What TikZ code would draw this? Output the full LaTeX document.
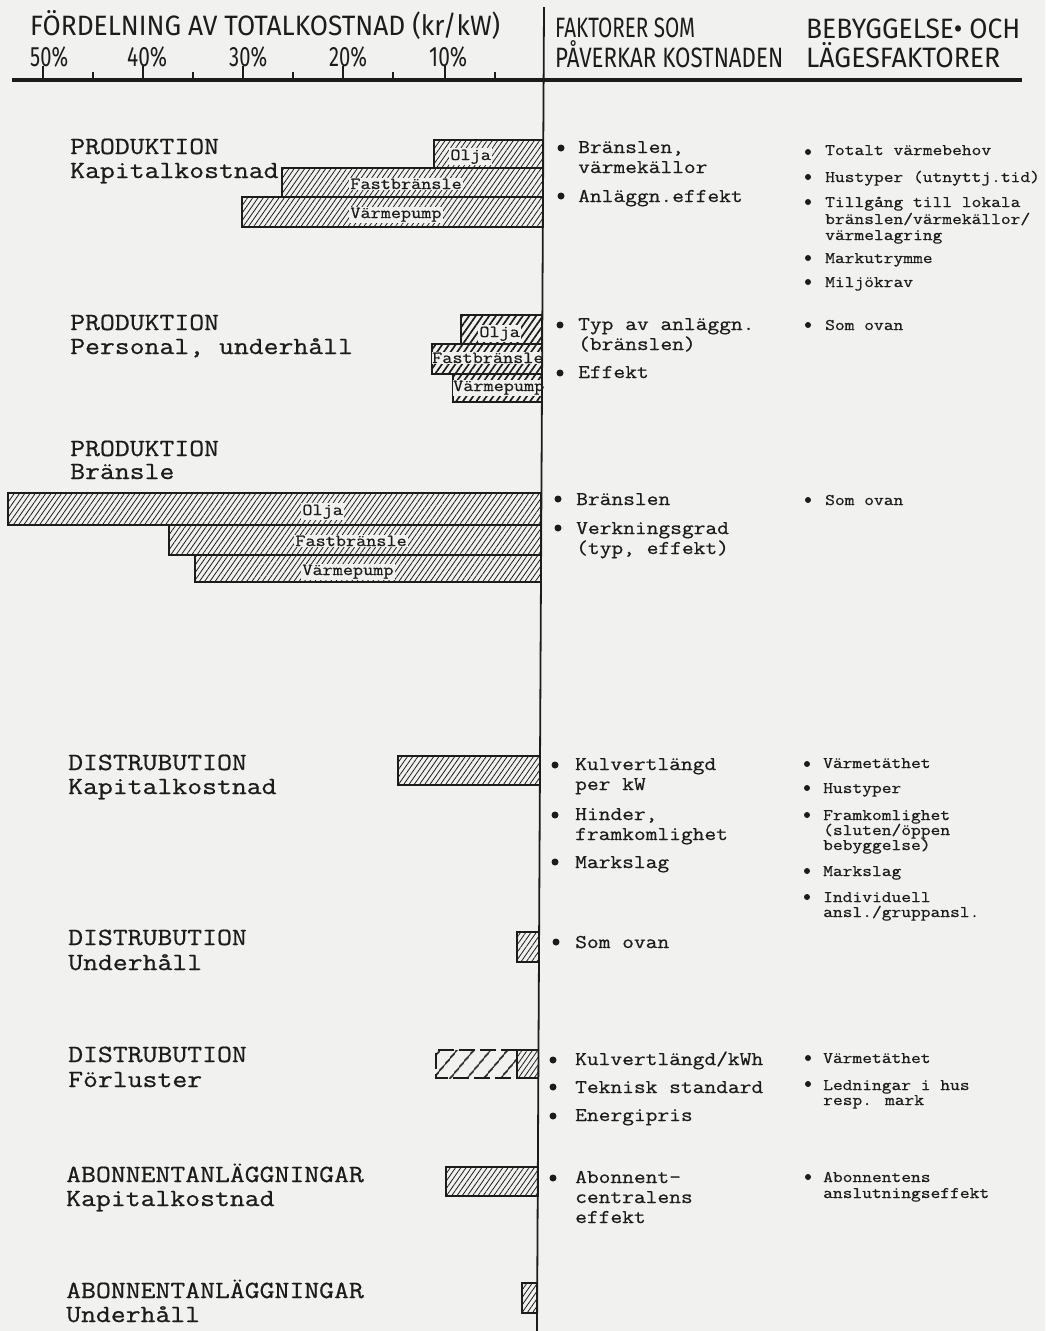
\documentclass[tikz,border=0pt]{standalone}
\usepackage{fontspec}
\usepackage{graphicx}
\usetikzlibrary{patterns.meta}
\newfontfamily\monof{Latin Modern Mono}[FakeStretch=1.17,FakeBold=0.7]
\newfontfamily\handf{Fira Sans}
\definecolor{paper}{RGB}{241,241,239}
\definecolor{ink}{RGB}{28,28,28}
\newcommand\lblfont{\monof\fontsize{24.7}{25}\selectfont}
\newcommand\ctwofont{\monof\fontsize{19.5}{20}\selectfont}
\newcommand\cthreefont{\monof\fontsize{16.2}{17}\selectfont}
\newcommand\barfont{\monof\fontsize{16.8}{17}\selectfont}
\newcommand\hw[3]{\resizebox{#1pt}{\height}{\handf\fontsize{#2}{#2}\selectfont #3}}
\tikzset{
  hd/.style={anchor=base west, inner sep=0pt, text=ink},
  lbl/.style={font=\lblfont, anchor=base west, inner sep=0pt, text=ink},
  ctwo/.style={font=\ctwofont, anchor=base west, inner sep=0pt, text=ink},
  cthree/.style={font=\cthreefont, anchor=base west, inner sep=0pt, text=ink},
  blab/.style={font=\barfont, fill=paper, inner sep=1.2pt, anchor=base west, text=ink},
  bar/.style={draw=ink, line width=1.6pt, pattern={Lines[angle=55,distance=4.3pt,line width=0.8pt]}, pattern color=ink},
  boldbar/.style={draw=ink, line width=1.6pt, pattern={Lines[angle=55,distance=5.5pt,line width=1.7pt]}, pattern color=ink},
  sparsebar/.style={draw=ink, line width=1.6pt, dash pattern=on 16pt off 5pt, pattern={Lines[angle=50,distance=13pt,line width=1.8pt]}, pattern color=ink},
  dotb/.style={circle, fill=ink, inner sep=0pt, minimum size=7pt},
  dots/.style={circle, fill=ink, inner sep=0pt, minimum size=6pt},
  axis/.style={draw=ink, line width=3.5pt},
  vline/.style={draw=ink, line width=1.8pt},
  tk/.style={draw=ink, line width=1.8pt}
}
\begin{document}
\begin{tikzpicture}[x=1pt,y=-1pt]
\useasboundingbox (0,0) rectangle (1045,1331);
\fill[paper] (0,0) rectangle (1045,1331);

% header
\node[hd] (h1) at (30,35) {\hw{470}{28}{FÖRDELNING AV TOTALKOSTNAD (kr/kW)}};
\node[hd] (p50) at (30,66) {\hw{38}{28}{50\%}};
\node[hd] (p40) at (127,66) {\hw{40}{28}{40\%}};
\node[hd] (p30) at (229,66) {\hw{38}{28}{30\%}};
\node[hd] (p20) at (329,66) {\hw{38}{28}{20\%}};
\node[hd] (p10) at (429,66) {\hw{38}{28}{10\%}};
\node[hd] (h2) at (555,37) {\hw{140}{28}{FAKTORER SOM}};
\node[hd] (h3) at (555,67) {\hw{228}{28}{PÅVERKAR KOSTNADEN}};
\node[hd] (h4) at (806,38) {\hw{214}{28}{BEBYGGELSE• OCH}};
\node[hd] (h5) at (806,67) {\hw{194}{28}{LÄGESFAKTORER}};

% axes
\draw[axis] (12,80) -- (1022,80);
\foreach \x in {43,143,243,343,445} \draw[tk] (\x,66) -- (\x,80);
\foreach \x in {93,193,293,393,495} \draw[tk] (\x,72) -- (\x,80);

% bars: produktion kapitalkostnad
\draw[bar] (434,140) rectangle (543.1,168);
\draw[bar] (282,168) rectangle (543.1,197);
\draw[bar] (242,197) rectangle (543.1,227);
\node[blab] (b1o) at (449,160) {Olja};
\node[blab] (b1f) at (349,189) {Fastbränsle};
\node[blab] (b1v) at (349,218) {Värmepump};

% produktion personal
\draw[boldbar] (461,315) rectangle (542.1,344);
\draw[boldbar] (432,344) rectangle (542.1,374);
\draw[boldbar] (453,374) rectangle (542.1,402);
\node[blab] (b2o) at (478,337) {Olja};
\node[blab, inner xsep=0pt] (b2f) at (432,363) {Fastbränsle};
\node[blab, inner xsep=0pt] (b2v) at (453,391) {Värmepump};

% produktion bränsle
\draw[bar] (8,493) rectangle (541.2,525);
\draw[bar] (169,525) rectangle (541.2,555);
\draw[bar] (195,555) rectangle (541.2,582);
\node[blab] (b3o) at (301,515) {Olja};
\node[blab] (b3f) at (294,546) {Fastbränsle};
\node[blab] (b3v) at (301,575) {Värmepump};

% distribution
\draw[bar] (398,756) rectangle (540,785);
\draw[bar] (517,932) rectangle (539,962);
\draw[sparsebar] (517,1050) -- (436,1050) -- (436,1078) -- (517,1078);
\draw[bar] (517,1050) rectangle (538.4,1078);
% abonnent
\draw[bar] (446,1167) rectangle (537.8,1196);
\draw[bar] (522,1283) rectangle (537.2,1313);

% vertical line
\draw[vline] (544,7) -- (537,1331);

% left labels
\node[lbl] (l1a) at (70,154) {PRODUKTION};
\node[lbl] (l1b) at (70,178) {Kapitalkostnad};
\node[lbl] (l2a) at (70,330) {PRODUKTION};
\node[lbl] (l2b) at (70,354) {Personal, underhåll};
\node[lbl] (l3a) at (70,456) {PRODUKTION};
\node[lbl] (l3b) at (70,479) {Bränsle};
\node[lbl] (l4a) at (68,770) {DISTRUBUTION};
\node[lbl] (l4b) at (68,794) {Kapitalkostnad};
\node[lbl] (l5a) at (68,945) {DISTRUBUTION};
\node[lbl] (l5b) at (68,970) {Underhåll};
\node[lbl] (l6a) at (68,1062) {DISTRUBUTION};
\node[lbl] (l6b) at (68,1087) {Förluster};
\node[lbl] (l7a) at (66,1182) {ABONNENTANLÄGGNINGAR};
\node[lbl] (l7b) at (66,1206) {Kapitalkostnad};
\node[lbl] (l8a) at (66,1298) {ABONNENTANLÄGGNINGAR};
\node[lbl] (l8b) at (66,1322) {Underhåll};

% column 2
\node[dotb] (d1) at (561,148) {};
\node[ctwo] (c1a) at (578,153) {Bränslen,};
\node[ctwo] (c1b) at (578,173) {värmekällor};
\node[dotb] (d2) at (561,196) {};
\node[ctwo] (c2) at (578,202) {Anläggn.effekt};
\node[dotb] (d3) at (560,325) {};
\node[ctwo] (c3a) at (578,330) {Typ av anläggn.};
\node[ctwo] (c3b) at (578,350) {(bränslen)};
\node[dotb] (d4) at (560,373) {};
\node[ctwo] (c4) at (578,378) {Effekt};
\node[dotb] (d5) at (558,499) {};
\node[ctwo] (c5) at (576,505) {Bränslen};
\node[dotb] (d6) at (558,528) {};
\node[ctwo] (c6a) at (576,534) {Verkningsgrad};
\node[ctwo] (c6b) at (576,554) {(typ, effekt)};
\node[dotb] (d7) at (555,765) {};
\node[ctwo] (c7a) at (575,770) {Kulvertlängd};
\node[ctwo] (c7b) at (575,790) {per kW};
\node[dotb] (d8) at (555,815) {};
\node[ctwo] (c8a) at (575,820) {Hinder,};
\node[ctwo] (c8b) at (575,840) {framkomlighet};
\node[dotb] (d9) at (555,862) {};
\node[ctwo] (c9) at (575,868) {Markslag};
\node[dotb] (d10) at (556,942) {};
\node[ctwo] (c10) at (575,948) {Som ovan};
\node[dotb] (d11) at (553,1060) {};
\node[ctwo] (c11) at (575,1065) {Kulvertlängd/kWh};
\node[dotb] (d12) at (553,1087) {};
\node[ctwo] (c12) at (575,1093) {Teknisk standard};
\node[dotb] (d13) at (553,1116) {};
\node[ctwo] (c13) at (575,1121) {Energipris};
\node[dotb] (d14) at (553,1178) {};
\node[ctwo] (c14a) at (575,1183) {Abonnent-};
\node[ctwo] (c14b) at (575,1203) {centralens};
\node[ctwo] (c14c) at (575,1223) {effekt};

% column 3
\node[dots] (e1) at (808,152) {};
\node[cthree] (f1) at (825,155) {Totalt värmebehov};
\node[dots] (e2) at (808,177) {};
\node[cthree] (f2) at (825,182) {Hustyper (utnyttj.tid)};
\node[dots] (e3) at (808,202) {};
\node[cthree] (f3a) at (825,207) {Tillgång till lokala};
\node[cthree] (f3b) at (825,224) {bränslen/värmekällor/};
\node[cthree] (f3c) at (825,240) {värmelagring};
\node[dots] (e4) at (808,258) {};
\node[cthree] (f4) at (825,263) {Markutrymme};
\node[dots] (e5) at (808,282) {};
\node[cthree] (f5) at (825,287) {Miljökrav};
\node[dots] (e6) at (808,325) {};
\node[cthree] (f6) at (825,330) {Som ovan};
\node[dots] (e7) at (808,500) {};
\node[cthree] (f7) at (825,505) {Som ovan};
\node[dots] (e8) at (807,764) {};
\node[cthree] (f8) at (823,768) {Värmetäthet};
\node[dots] (e9) at (807,788) {};
\node[cthree] (f9) at (823,793) {Hustyper};
\node[dots] (e10) at (807,815) {};
\node[cthree] (f10a) at (823,820) {Framkomlighet};
\node[cthree] (f10b) at (823,835) {(sluten/öppen};
\node[cthree] (f10c) at (823,850) {bebyggelse)};
\node[dots] (e11) at (807,871) {};
\node[cthree] (f11) at (823,876) {Markslag};
\node[dots] (e12) at (807,897) {};
\node[cthree] (f12a) at (823,902) {Individuell};
\node[cthree] (f12b) at (823,917) {ansl./gruppansl.};
\node[dots] (e13) at (808,1058) {};
\node[cthree] (f13) at (823,1063) {Värmetäthet};
\node[dots] (e14) at (808,1084) {};
\node[cthree] (f14a) at (823,1090) {Ledningar i hus};
\node[cthree] (f14b) at (823,1105) {resp. mark};
\node[dots] (e15) at (808,1177) {};
\node[cthree] (f15a) at (823,1182) {Abonnentens};
\node[cthree] (f15b) at (823,1198) {anslutningseffekt};
\end{tikzpicture}
\end{document}
